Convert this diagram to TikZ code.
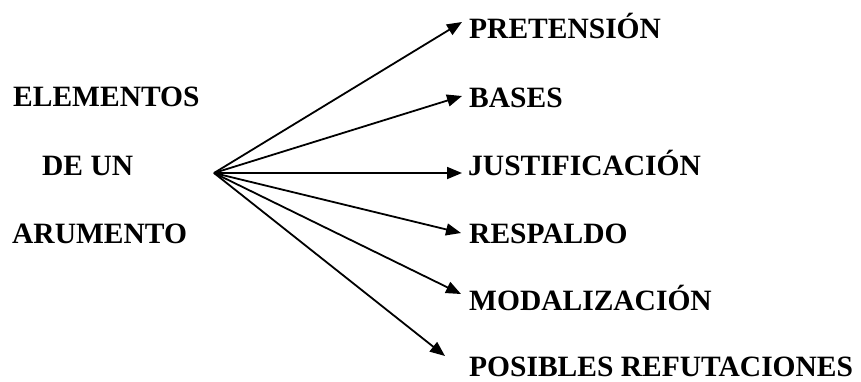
\documentclass[tikz,border=0pt]{standalone}
\usepackage{fontspec}
\setmainfont{Liberation Serif}
\usetikzlibrary{arrows.meta}
\begin{document}
\begin{tikzpicture}[x=1pt,y=-1pt,
  lbl/.style={anchor=base west,inner sep=0pt,font=\fontsize{29.5}{35}\selectfont\bfseries},
  arr/.style={line width=1.8pt,-{Triangle[length=15pt,width=12pt]}}]
\useasboundingbox (0,0) rectangle (861,381);
% left title
\node[lbl] (t1) at (13,106) {ELEMENTOS};
\node[lbl] (t2) at (42,175) {DE UN};
\node[lbl] (t3) at (12,243) {ARUMENTO};
% right labels
\node[lbl] (pre) at (469,38) {PRETENSIÓN};
\node[lbl] (bas) at (469,107) {BASES};
\node[lbl] (jus) at (468,175) {JUSTIFICACIÓN};
\node[lbl] (res) at (469,243) {RESPALDO};
\node[lbl] (mod) at (469,310) {MODALIZACIÓN};
\node[lbl] (pos) at (469,376) {POSIBLES REFUTACIONES};
% fan origin and arrow ends
\coordinate (o) at (214,173);
\coordinate (ePre) at (462,22);
\coordinate (eBas) at (462,96);
\coordinate (eJus) at (462,173);
\coordinate (eRes) at (461,233);
\coordinate (eMod) at (461,294);
\coordinate (ePos) at (445,356);
\draw[arr] (o) -- (ePre);
\draw[arr] (o) -- (eBas);
\draw[arr] (o) -- (eJus);
\draw[arr] (o) -- (eRes);
\draw[arr] (o) -- (eMod);
\draw[arr] (o) -- (ePos);
\end{tikzpicture}
\end{document}
